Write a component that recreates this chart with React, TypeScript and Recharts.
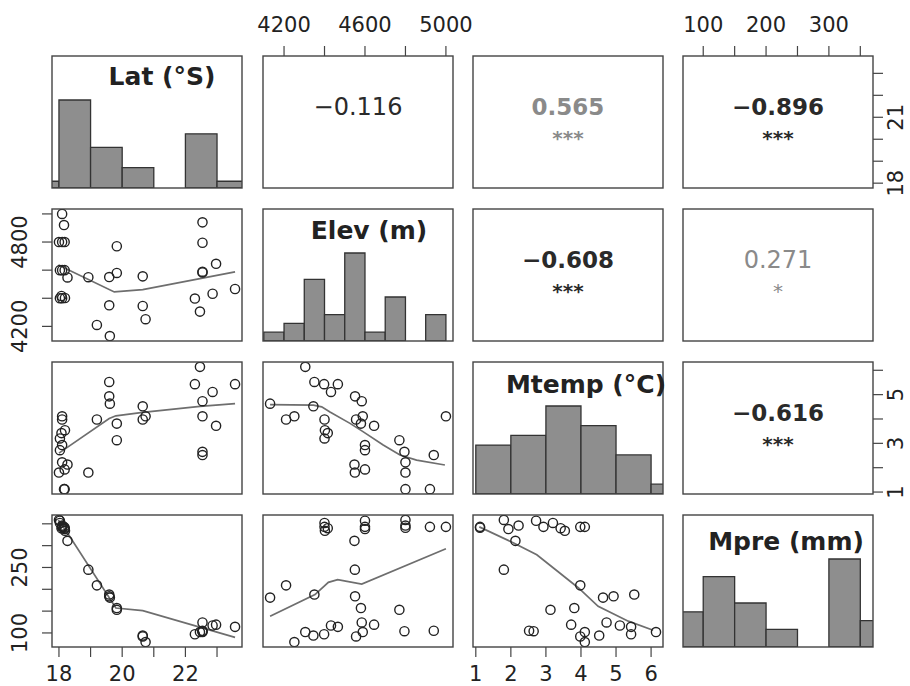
import React from "react";
import { ComposedChart, Scatter, Line, XAxis, YAxis, ReferenceArea } from "recharts";

const NAMES = ["Lat (°S)", "Elev (m)", "Mtemp (°C)", "Mpre (mm)"];

// 32 sites
const lat = [18.1, 18.16, 18.1, 18.0, 18.18, 18.1, 18.03, 18.18, 18.1, 18.19, 18.08, 18.03, 18.27, 18.93, 19.61, 19.2, 19.59, 19.83, 19.59, 19.83, 20.74, 20.65, 20.65, 22.46, 22.3, 22.86, 23.57, 22.54, 22.54, 22.97, 22.54, 22.54];
const elev = [5000, 4921, 4800, 4800, 4800, 4600, 4600, 4600, 4400, 4402, 4416, 4400, 4548, 4550, 4131, 4210, 4350, 4770, 4551, 4580, 4251, 4345, 4556, 4305, 4398, 4432, 4466, 4940, 4795, 4645, 4584, 4589];
const mtemp = [4.11, 1.12, 2.22, 1.8, 1.12, 2.93, 2.72, 1.93, 3.98, 3.54, 3.42, 3.2, 2.13, 1.8, 4.63, 3.98, 5.52, 3.13, 4.93, 3.81, 4.11, 4.52, 3.98, 6.14, 5.43, 5.11, 5.43, 2.52, 2.65, 3.72, 4.73, 4.11];
const mpre = [343, 343, 346, 359, 341, 343, 357, 338, 343, 334, 340, 352, 311, 245, 181, 209, 188, 153, 184, 157, 79, 94, 92, 102, 97, 117, 114, 105, 104, 119, 124, 102];

// histogram breaks + counts on the diagonal
const latBreaks = [17, 18, 19, 20, 21, 22, 23, 24];
const latCounts = [1, 13, 6, 3, 0, 8, 1];
const elevBreaks = [4100, 4200, 4300, 4400, 4500, 4600, 4700, 4800, 4900, 5000];
const elevCounts = [1, 2, 7, 3, 10, 1, 5, 0, 3];
const mtempBreaks = [1, 2, 3, 4, 5, 6, 7];
const mtempCounts = [5, 6, 9, 7, 4, 1];
const mpreBreaks = [50, 100, 150, 200, 250, 300, 350, 400];
const mpreCounts = [4, 8, 5, 2, 0, 10, 3];

// smoother lines as drawn in the lower panels
const smLatElev = [[17.98, 4636], [19.75, 4445], [20.65, 4462], [23.57, 4588]];
const smLatMtemp = [[18.0, 2.6], [19.59, 4.02], [19.8, 4.13], [20.65, 4.27], [22.46, 4.52], [23.57, 4.63]];
const smLatMpre = [[17.98, 359], [18.27, 329], [19.8, 157], [20.65, 151], [23.57, 90]];
const smElevMtemp = [[4131, 4.59], [4345, 4.57], [4386, 4.5], [4427, 4.29], [4526, 3.82], [4592, 3.47], [4690, 2.93], [4773, 2.52], [4855, 2.31], [4995, 2.11]];
const smElevMpre = [[4131, 138], [4353, 188], [4419, 216], [4465, 222], [4584, 212], [5000, 293]];
const smMtempMpre = [[1.1, 343], [2.08, 306], [2.74, 279], [3.26, 246], [3.93, 203], [4.49, 161], [5.35, 127], [6.06, 106]];

// upper panels
const corrCells = [
  { r: 0, c: 1, value: "−0.116", stars: "", bold: false, grey: false },
  { r: 0, c: 2, value: "0.565", stars: "***", bold: true, grey: true },
  { r: 0, c: 3, value: "−0.896", stars: "***", bold: true, grey: false },
  { r: 1, c: 2, value: "−0.608", stars: "***", bold: true, grey: false },
  { r: 1, c: 3, value: "0.271", stars: "*", bold: false, grey: true },
  { r: 2, c: 3, value: "−0.616", stars: "***", bold: true, grey: false },
];

const VARS = [lat, elev, mtemp, mpre];
const DOMAINS: [number, number][] = [[17.78, 23.79], [4096, 5035], [0.92, 6.34], [67.8, 370.2]];
const TICKS = [[18, 19, 20, 21, 22, 23], [4200, 4400, 4600, 4800, 5000], [1, 2, 3, 4, 5, 6], [100, 150, 200, 250, 300, 350]];
const HISTS: [number[], number[]][] = [[latBreaks, latCounts], [elevBreaks, elevCounts], [mtempBreaks, mtempCounts], [mpreBreaks, mpreCounts]];
const SMOOTH: Record<string, number[][]> = {
  "1-0": smLatElev, "2-0": smLatMtemp, "3-0": smLatMpre,
  "2-1": smElevMtemp, "3-1": smElevMpre, "3-2": smMtempMpre,
};
// tick labels that R actually printed
const LABELS: Record<string, number[]> = {
  "top-1": [4200, 4600, 5000],
  "top-3": [100, 200, 300],
  "bottom-0": [18, 20, 22],
  "bottom-2": [1, 2, 3, 4, 5, 6],
  "left-1": [4200, 4800],
  "left-3": [100, 250],
  "right-0": [18, 21],
  "right-2": [1, 3, 5],
};

const PANEL_X = [52, 263, 473, 683];
const PANEL_Y = [56, 209, 362, 515];
const PW = 190;
const PH = 132;
const PAD = 60;
const FONT = "'DejaVu Sans', sans-serif";
const NAME_POS = [[162, 85], [369, 239], [586, 393], [786, 550]];

const makeTick = (orient: string, labels: number[]) => (p: any) => {
  const v = p.payload.value;
  if (!labels.includes(v)) return <g />;
  const common = { fontFamily: FONT, fontSize: 21, fill: "#222" };
  if (orient === "bottom")
    return <text x={p.x} y={p.y + 22} textAnchor="middle" {...common}>{v}</text>;
  if (orient === "top")
    return <text x={p.x} y={p.y - 12} textAnchor="middle" {...common}>{v}</text>;
  const bx = orient === "left" ? p.x - 13 : p.x + 18;
  return (
    <text x={bx} y={p.y} textAnchor="middle" transform={`rotate(-90 ${bx} ${p.y})`} {...common}>
      {v}
    </text>
  );
};

function Panel({ r, c }: { r: number; c: number }) {
  const xOrient = r === 0 && c % 2 === 1 ? "top" : r === 3 && c % 2 === 0 ? "bottom" : null;
  const yOrient = c === 0 && r % 2 === 1 ? "left" : c === 3 && r % 2 === 0 ? "right" : null;
  const diag = r === c;
  const lower = r > c;
  if (r < c && !xOrient && !yOrient) return null;

  const [breaks, counts] = HISTS[r];
  const yDomain: [number, number] = diag ? [0, Math.max(...counts) * 1.5] : DOMAINS[r];
  const points = lower ? VARS[c].map((v, i) => ({ x: v, y: VARS[r][i] })) : [];
  const smooth = lower ? SMOOTH[`${r}-${c}`].map(([x, y]) => ({ x, y })) : [];

  // a visible axis takes 1px out of the margin on its side
  const margin = {
    top: PAD - (xOrient === "top" ? 1 : 0),
    bottom: PAD - (xOrient === "bottom" ? 1 : 0),
    left: PAD - (yOrient === "left" ? 1 : 0),
    right: PAD - (yOrient === "right" ? 1 : 0),
  };

  return (
    <div style={{ position: "absolute", left: PANEL_X[c] - PAD, top: PANEL_Y[r] - PAD }}>
      <ComposedChart width={PW + 2 * PAD} height={PH + 2 * PAD} margin={margin}>
        <XAxis
          type="number"
          dataKey="x"
          domain={DOMAINS[c]}
          allowDataOverflow
          ticks={TICKS[c]}
          interval={0}
          hide={!xOrient}
          orientation={(xOrient ?? "bottom") as any}
          height={1}
          tickSize={10}
          axisLine={false}
          tickLine={{ stroke: "#444", strokeWidth: 1.2 }}
          tick={xOrient ? makeTick(xOrient, LABELS[`${xOrient}-${c}`]) : false}
        />
        <YAxis
          type="number"
          dataKey="y"
          domain={yDomain}
          allowDataOverflow
          ticks={diag ? undefined : TICKS[r]}
          interval={0}
          hide={!yOrient}
          orientation={(yOrient ?? "left") as any}
          width={1}
          tickSize={10}
          axisLine={false}
          tickLine={{ stroke: "#444", strokeWidth: 1.2 }}
          tick={yOrient ? makeTick(yOrient, LABELS[`${yOrient}-${r}`]) : false}
        />
        {diag &&
          counts.map((n, i) =>
            n > 0 ? (
              <ReferenceArea
                key={i}
                x1={breaks[i]}
                x2={breaks[i + 1]}
                y1={0}
                y2={n}
                ifOverflow="hidden"
                fill="#8e8e8e"
                fillOpacity={1}
                stroke="#333"
                strokeWidth={1.3}
              />
            ) : null
          )}
        {lower && (
          <Line
            data={smooth}
            dataKey="y"
            type="linear"
            stroke="#6e6e6e"
            strokeWidth={1.7}
            dot={false}
            isAnimationActive={false}
          />
        )}
        {lower && (
          <Scatter
            data={points}
            isAnimationActive={false}
            shape={(p: any) => (
              <circle cx={p.cx} cy={p.cy} r={4.6} fill="none" stroke="#222" strokeWidth={1.4} />
            )}
          />
        )}
      </ComposedChart>
    </div>
  );
}

export default function App() {
  const cells = [];
  for (let r = 0; r < 4; r++) for (let c = 0; c < 4; c++) cells.push(<Panel key={`${r}-${c}`} r={r} c={c} />);

  return (
    <div
      style={{
        position: "absolute",
        left: 0,
        top: 0,
        width: 910,
        height: 686,
        background: "#fff",
        overflow: "hidden",
        fontFamily: FONT,
      }}
    >
      {cells}
      <svg
        width={910}
        height={686}
        style={{ position: "absolute", left: 0, top: 0, pointerEvents: "none" }}
      >
        {PANEL_Y.map((py, r) =>
          PANEL_X.map((px, c) => (
            <rect key={`b${r}${c}`} x={px} y={py} width={PW} height={PH} fill="none" stroke="#444" strokeWidth={1.4} />
          ))
        )}
        {NAMES.map((n, i) => (
          <text
            key={n}
            x={NAME_POS[i][0]}
            y={NAME_POS[i][1]}
            textAnchor="middle"
            fontFamily={FONT}
            fontWeight="bold"
            fontSize={25}
            fill="#222"
          >
            {n}
          </text>
        ))}
        {corrCells.map((k) => {
          const cx = PANEL_X[k.c] + PW / 2;
          const color = k.grey ? "#8a8a8a" : "#2a2a2a";
          return (
            <g key={`${k.r}${k.c}`}>
              <text
                x={cx}
                y={PANEL_Y[k.r] + 59}
                textAnchor="middle"
                fontFamily={FONT}
                fontWeight={k.bold ? "bold" : "normal"}
                fontSize={k.bold ? 23 : 24}
                fill={color}
              >
                {k.value}
              </text>
              {k.stars && (
                <text
                  x={cx}
                  y={PANEL_Y[k.r] + 89}
                  textAnchor="middle"
                  fontFamily={FONT}
                  fontWeight={k.bold ? "bold" : "normal"}
                  fontSize={20}
                  fill={color}
                >
                  {k.stars}
                </text>
              )}
            </g>
          );
        })}
      </svg>
    </div>
  );
}
